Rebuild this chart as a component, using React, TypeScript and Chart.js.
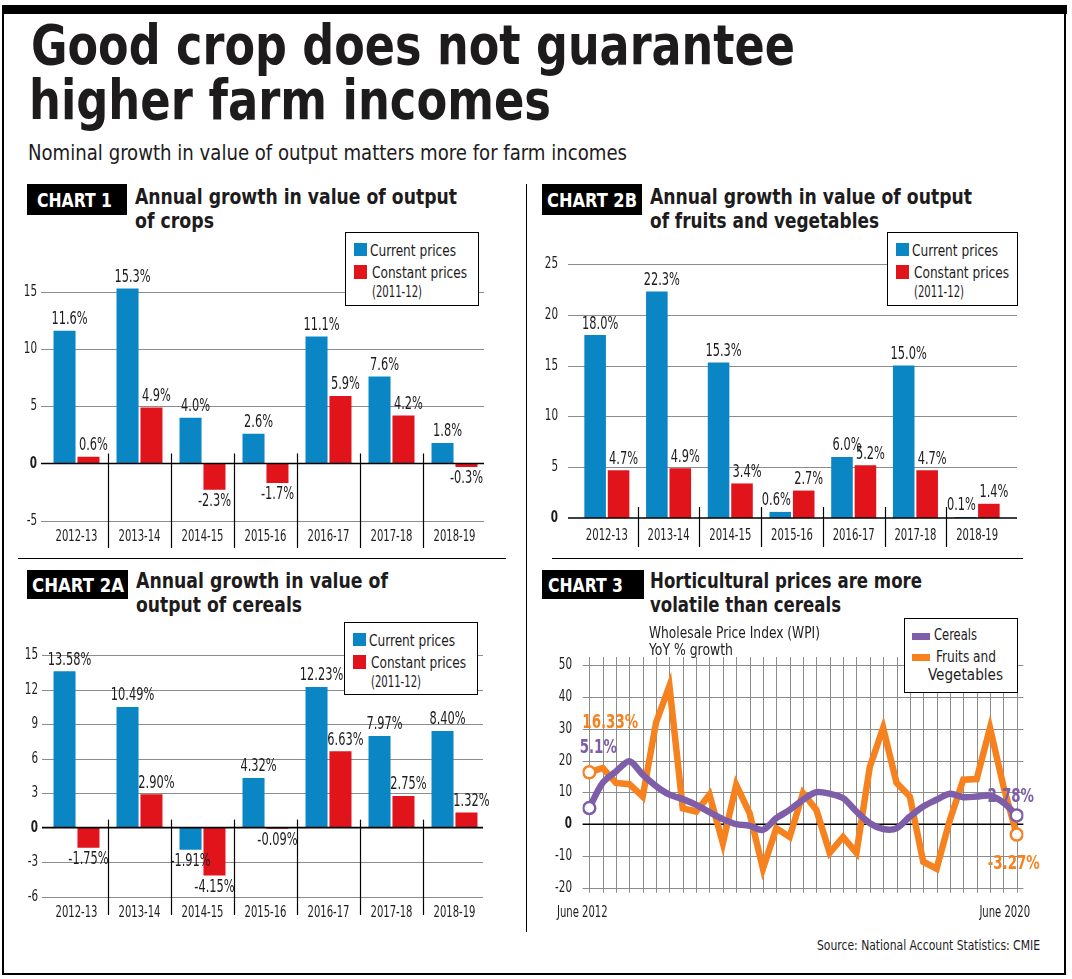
import React, { useEffect, useRef } from 'react';
import { Chart, registerables } from 'chart.js';
Chart.register(...registerables);

// ---------------- data ----------------
const years = ['2012-13', '2013-14', '2014-15', '2015-16', '2016-17', '2017-18', '2018-19'];
const cropsCurrent = [11.6, 15.3, 4.0, 2.6, 11.1, 7.6, 1.8];
const cropsConstant = [0.6, 4.9, -2.3, -1.7, 5.9, 4.2, -0.3];
const cropTicks = [-5, 0, 5, 10, 15];
const fvCurrent = [18.0, 22.3, 15.3, 0.6, 6.0, 15.0, 0.1];
const fvConstant = [4.7, 4.9, 3.4, 2.7, 5.2, 4.7, 1.4];
const fvTicks = [0, 5, 10, 15, 20, 25];
const cerealCurrent = [13.58, 10.49, -1.91, 4.32, 12.23, 7.97, 8.4];
const cerealConstant = [-1.75, 2.9, -4.15, -0.09, 6.63, 2.75, 1.32];
const cerealTicks = [-6, -3, 0, 3, 6, 9, 12, 15];
// WPI YoY % growth, quarterly, June 2012 .. June 2020
const wpiCereals = [5.1, 13, 16.6, 19.8, 15.6, 12, 9.3, 7.9, 6.1, 3.8, 1.6, 0, -0.5, -1.8, 1.9, 4.5, 7.7, 10.1, 9.6, 8.2, 4, 0.3, -1.5, -1.3, 2.4, 5.6, 7.7, 9.6, 8.5, 8.7, 9, 6.8, 2.78];
const wpiFruitsVeg = [16.33, 17.7, 13, 12.6, 8.7, 32, 43.5, 5, 4, 9.3, -6, 12.4, 3.5, -14, -1.3, -4, 9.8, 4.5, -9, -4, -9, 18, 30.3, 13, 8.7, -11.8, -14, 1.4, 14, 14.2, 30.3, 12, -3.27];
const wpiTicks = [-20, -10, 0, 10, 20, 30, 40, 50];
const wpiEndLabels = ['June 2012', 'June 2020'];
const legendBar = ['Current prices', 'Constant prices', '(2011-12)'];
const legendLine = ['Cereals', 'Fruits and', 'Vegetables'];

// ---------------- style ----------------
const BLUE = '#0a86c4';
const RED = '#e1141c';
const PURPLE = '#7e5ea8';
const ORANGE = '#f5821f';
const GRID = '#8c8c8c';
const TEXT = '#1d1b1c';

const NARROW = ['Liberation Sans Narrow', 'DejaVu Sans Condensed', 'Roboto Condensed', 'Noto Sans Condensed', 'Open Sans Condensed'];
const mctx = document.createElement('canvas').getContext('2d') as CanvasRenderingContext2D;
function fontExists(name: string) {
  const s = 'mmmmmmmmmmlli1WQ@#';
  mctx.font = '40px monospace';
  const a = mctx.measureText(s).width;
  mctx.font = `40px "${name}", monospace`;
  const b = mctx.measureText(s).width;
  mctx.font = '40px serif';
  const c = mctx.measureText(s).width;
  mctx.font = `40px "${name}", serif`;
  const d = mctx.measureText(s).width;
  return a !== b || c !== d;
}
const FOUND = NARROW.find(fontExists);
const FAMILY = FOUND ? `"${FOUND}", Roboto, sans-serif` : 'Roboto, "Liberation Sans", sans-serif';
function fontStr(size: number, bold = false) {
  return `${bold ? 'bold ' : ''}${size}px ${FAMILY}`;
}
function tw(text: string, size: number, bold = false) {
  mctx.font = fontStr(size, bold);
  return mctx.measureText(text).width;
}
const COND = Math.min(1.05, 42 / tw('2012-13', 15));

function drawText(ctx: CanvasRenderingContext2D, text: string, x: number, y: number, size: number, bold: boolean, color: string, align: 'left' | 'center' | 'right') {
  ctx.save();
  ctx.font = fontStr(size, bold);
  ctx.fillStyle = color;
  ctx.textBaseline = 'middle';
  ctx.textAlign = 'left';
  const w = ctx.measureText(text).width * COND;
  const x0 = align === 'left' ? x : align === 'center' ? x - w / 2 : x - w;
  ctx.translate(x0, y);
  ctx.scale(COND, 1);
  ctx.fillText(text, 0, 0);
  ctx.restore();
}
function line(ctx: CanvasRenderingContext2D, x1: number, y1: number, x2: number, y2: number, color: string, w: number) {
  ctx.save();
  ctx.strokeStyle = color;
  ctx.lineWidth = w;
  ctx.beginPath();
  ctx.moveTo(x1, y1);
  ctx.lineTo(x2, y2);
  ctx.stroke();
  ctx.restore();
}

// ---------------- html text ----------------
function Txt({ text, x, base, size, bold = false, w, color = TEXT, right = false }: any) {
  const natural = tw(text, size, bold);
  const s = w ? w / natural : 1;
  const width = w || natural;
  const left = right ? x - width : x;
  return (
    <div
      style={{
        position: 'absolute',
        left,
        top: base - 0.845 * size,
        fontFamily: FAMILY,
        fontSize: size,
        fontWeight: bold ? 700 : 400,
        lineHeight: `${size}px`,
        whiteSpace: 'nowrap',
        color,
        transform: `scaleX(${s})`,
        transformOrigin: '0 0',
      }}
    >
      {text}
    </div>
  );
}

function Box({ x, y, w, h, bg = '#000', border }: any) {
  return <div style={{ position: 'absolute', left: x, top: y, width: w, height: h, background: bg, border, boxSizing: 'border-box' }} />;
}

function ChartTag({ x, y, w, h, text, tx, tw: textW }: any) {
  return (
    <>
      <Box x={x} y={y} w={w} h={h} />
      <Txt text={text} x={tx} base={y + h / 2 + 7.5} size={20} bold w={textW} color="#fff" />
    </>
  );
}

function BarLegend({ x, y, w, h }: any) {
  return (
    <>
      <Box x={x} y={y} w={w} h={h} bg="#fff" border="1.5px solid #000" />
      <Box x={x + 9} y={y + 11} w={13} h={13} bg={BLUE} />
      <Txt text={legendBar[0]} x={x + 25} base={y + 19 + 5.6} size={16} w={86} />
      <Box x={x + 9} y={y + 33} w={13} h={14} bg={RED} />
      <Txt text={legendBar[1]} x={x + 27} base={y + 41 + 5.6} size={16} w={95} />
      <Txt text={legendBar[2]} x={x + 27} base={y + 60 + 5.6} size={16} w={50} />
    </>
  );
}

// ---------------- bar chart ----------------
function BarChart(p: any) {
  const ref = useRef<HTMLCanvasElement>(null);
  useEffect(() => {
    const c = ref.current!;
    const { cv, area } = p;
    const ox = cv.x;
    const oy = cv.y;
    const decor = {
      id: 'decor',
      beforeDatasetsDraw(chart: any) {
        const ctx = chart.ctx;
        const ys = chart.scales.y;
        const ca = chart.chartArea;
        p.ticks.forEach((v: number) => {
          if (v === 0) return;
          const y = Math.round(ys.getPixelForValue(v)) + 0.5;
          line(ctx, ca.left - p.gridL, y, ca.right + p.gridR, y, GRID, 1);
        });
      },
      afterDatasetsDraw(chart: any) {
        const ctx = chart.ctx;
        const ys = chart.scales.y;
        const xs = chart.scales.x;
        const ca = chart.chartArea;
        const y0 = ys.getPixelForValue(0);
        line(ctx, ca.left - p.gridL, y0, ca.right + p.gridR, y0, '#000', 1.6);
        for (let i = 0; i < p.labels.length - 1; i++) {
          const x = Math.round((xs.getPixelForValue(i) + xs.getPixelForValue(i + 1)) / 2) + 0.5;
          line(ctx, x, y0 + p.sepTop, x, p.sepBottom - oy, '#000', 1.2);
        }
        chart.data.datasets.forEach((ds: any, di: number) => {
          const meta = chart.getDatasetMeta(di);
          meta.data.forEach((el: any, i: number) => {
            const v = ds.data[i] as number;
            const other = chart.data.datasets[1 - di].data[i] as number;
            const txt = v.toFixed(p.decimals) + '%';
            let dx = v < 0 ? 0 : 5;
            if (di === 0 && v >= 0 && other > v) dx = -4;
            const y = v >= 0 ? el.y - 11 : el.y + 12;
            drawText(ctx, txt, el.x + dx, y, 17, false, TEXT, 'center');
          });
        });
        p.ticks.forEach((v: number) => {
          drawText(ctx, String(v), p.yLabelRight - ox, ys.getPixelForValue(v), 15.5, v === 0, TEXT, 'right');
        });
        p.labels.forEach((l: string, i: number) => {
          drawText(ctx, l, xs.getPixelForValue(i), p.xLabelY - oy, 15, false, TEXT, 'center');
        });
      },
    };
    const chart = new Chart(c, {
      type: 'bar',
      data: {
        labels: p.labels,
        datasets: [
          { label: legendBar[0], data: p.current, backgroundColor: BLUE, categoryPercentage: 0.76, barPercentage: 0.92 },
          { label: legendBar[1], data: p.constant, backgroundColor: RED, categoryPercentage: 0.76, barPercentage: 0.92 },
        ],
      },
      options: {
        animation: false,
        responsive: false,
        devicePixelRatio: 1,
        layout: { padding: { left: 0, top: area.t - cv.y, right: cv.x + cv.w - area.r, bottom: 0 } },
        plugins: { legend: { display: false }, tooltip: { enabled: false } },
        scales: {
          x: {
            grid: { display: false, drawTicks: false },
            border: { display: false },
            ticks: { display: false },
            afterFit: (s: any) => {
              s.height = cv.y + cv.h - area.b;
            },
          },
          y: {
            min: p.min,
            max: p.max,
            ticks: { display: false },
            grid: { display: false, drawTicks: false },
            border: { display: false },
            afterFit: (s: any) => {
              s.width = area.l - cv.x;
            },
          },
        },
      } as any,
      plugins: [decor],
    });
    return () => chart.destroy();
  }, []);
  return <canvas ref={ref} width={p.cv.w} height={p.cv.h} style={{ position: 'absolute', left: p.cv.x, top: p.cv.y, width: p.cv.w, height: p.cv.h }} />;
}

// ---------------- line chart ----------------
function LineChart() {
  const ref = useRef<HTMLCanvasElement>(null);
  const cv = { x: 530, y: 640, w: 540, h: 290 };
  const area = { l: 582.6, r: 1023.4, t: 657, b: 887.8 };
  useEffect(() => {
    const c = ref.current!;
    const n = wpiCereals.length;
    const decor = {
      id: 'decor3',
      beforeDatasetsDraw(chart: any) {
        const ctx = chart.ctx;
        const ys = chart.scales.y;
        const xs = chart.scales.x;
        const ca = chart.chartArea;
        for (let i = 0; i < n; i++) {
          const x = Math.round(xs.getPixelForValue(i)) + 0.5;
          line(ctx, x, ca.top, x, ca.bottom + 5, GRID, 1);
        }
        wpiTicks.forEach((v) => {
          if (v === 0) return;
          const y = Math.round(ys.getPixelForValue(v)) + 0.5;
          line(ctx, ca.left, y, ca.right, y, GRID, 1);
        });
        const y0 = ys.getPixelForValue(0);
        line(ctx, ca.left, y0, ca.right, y0, '#000', 1.6);
      },
      afterDatasetsDraw(chart: any) {
        const ctx = chart.ctx;
        const ys = chart.scales.y;
        const m0 = chart.getDatasetMeta(0).data;
        const m1 = chart.getDatasetMeta(1).data;
        wpiTicks.forEach((v) => {
          drawText(ctx, String(v), 572 - cv.x, ys.getPixelForValue(v), 15.5, v === 0, TEXT, 'right');
        });
        drawText(ctx, wpiEndLabels[0], m0[0].x - 7, 913 - cv.y, 15, false, TEXT, 'center');
        drawText(ctx, wpiEndLabels[1], m0[n - 1].x - 12, 913 - cv.y, 15, false, TEXT, 'center');
        drawText(ctx, `${wpiFruitsVeg[0]}%`, m1[0].x + 21, m1[0].y - 50, 20, true, ORANGE, 'center');
        drawText(ctx, `${wpiCereals[0]}%`, m0[0].x + 9, m0[0].y - 60, 20, true, PURPLE, 'center');
        drawText(ctx, `${wpiCereals[n - 1]}%`, m0[n - 1].x - 6, m0[n - 1].y - 19, 20, true, PURPLE, 'center');
        drawText(ctx, `${wpiFruitsVeg[n - 1]}%`, m1[n - 1].x - 3, m1[n - 1].y + 29, 20, true, ORANGE, 'center');
      },
    };
    const endRadius = (ctx: any) => (ctx.dataIndex === 0 || ctx.dataIndex === n - 1 ? 6 : 0);
    const chart = new Chart(c, {
      type: 'line',
      data: {
        datasets: [
          {
            label: legendLine[0],
            data: wpiCereals.map((y, i) => ({ x: i, y })),
            borderColor: PURPLE,
            borderWidth: 6.5,
            tension: 0.3,
            pointRadius: endRadius,
            pointBackgroundColor: '#fff',
            pointBorderColor: PURPLE,
            pointBorderWidth: 2.5,
            borderJoinStyle: 'round',
            order: 0,
          },
          {
            label: legendLine[1] + ' ' + legendLine[2],
            data: wpiFruitsVeg.map((y, i) => ({ x: i, y })),
            borderColor: ORANGE,
            borderWidth: 6.5,
            tension: 0,
            pointRadius: endRadius,
            pointBackgroundColor: '#fff',
            pointBorderColor: ORANGE,
            pointBorderWidth: 2.5,
            borderJoinStyle: 'miter',
            order: 1,
          },
        ],
      },
      options: {
        animation: false,
        responsive: false,
        devicePixelRatio: 1,
        layout: { padding: { left: 0, top: area.t - cv.y, right: cv.x + cv.w - area.r, bottom: 0 } },
        plugins: { legend: { display: false }, tooltip: { enabled: false } },
        scales: {
          x: {
            type: 'linear',
            min: -0.5,
            max: n - 0.5,
            ticks: { display: false },
            grid: { display: false, drawTicks: false },
            border: { display: false },
            afterFit: (s: any) => {
              s.height = cv.y + cv.h - area.b;
            },
          },
          y: {
            min: -20,
            max: 52.6,
            ticks: { display: false },
            grid: { display: false, drawTicks: false },
            border: { display: false },
            afterFit: (s: any) => {
              s.width = area.l - cv.x;
            },
          },
        },
      } as any,
      plugins: [decor],
    });
    return () => chart.destroy();
  }, []);
  return <canvas ref={ref} width={cv.w} height={cv.h} style={{ position: 'absolute', left: cv.x, top: cv.y, width: cv.w, height: cv.h }} />;
}

// ---------------- app ----------------
export default function App() {
  return (
    <div style={{ position: 'absolute', left: 0, top: 0, width: 1072, height: 979, background: '#fff', overflow: 'hidden', fontFamily: FAMILY }}>
      {/* frame */}
      <Box x={2} y={5} w={1065} h={9} />
      <Box x={2} y={5} w={2} h={970} />
      <Box x={1064} y={5} w={2} h={970} />
      <Box x={2} y={973} w={1064} h={2} />
      <Box x={525.5} y={184} w={1.5} h={748} />
      <Box x={18} y={557.5} w={488} h={1.5} />
      <Box x={552} y={557.5} w={471} h={1.5} />

      {/* headline */}
      <Txt text="Good crop does not guarantee" x={31} base={64} size={56} bold w={764} />
      <Txt text="higher farm incomes" x={29} base={119} size={56} bold w={522} />
      <Txt text="Nominal growth in value of output matters more for farm incomes" x={28} base={161} size={22} w={599} />

      {/* chart 1 */}
      <BarChart
        cv={{ x: 0, y: 236, w: 520, h: 320 }}
        area={{ l: 45, r: 486, t: 257.6, b: 520.7 }}
        labels={years}
        current={cropsCurrent}
        constant={cropsConstant}
        ticks={cropTicks}
        min={-5}
        max={18}
        decimals={1}
        gridL={4}
        gridR={-2}
        yLabelRight={37}
        xLabelY={537}
        sepTop={-10}
        sepBottom={548}
      />
      {/* chart 2B */}
      <BarChart
        cv={{ x: 530, y: 240, w: 530, h: 316 }}
        area={{ l: 576, r: 1008, t: 264, b: 518 }}
        labels={years}
        current={fvCurrent}
        constant={fvConstant}
        ticks={fvTicks}
        min={0}
        max={25}
        decimals={1}
        gridL={8}
        gridR={9}
        yLabelRight={558}
        xLabelY={536}
        sepTop={-11}
        sepBottom={547}
      />
      {/* chart 2A */}
      <BarChart
        cv={{ x: 0, y: 630, w: 520, h: 300 }}
        area={{ l: 45, r: 486, t: 655, b: 896.7 }}
        labels={years}
        current={cerealCurrent}
        constant={cerealConstant}
        ticks={cerealTicks}
        min={-6}
        max={15}
        decimals={2}
        gridL={3}
        gridR={-3}
        yLabelRight={38}
        xLabelY={913}
        sepTop={-8}
        sepBottom={915}
      />
      {/* chart 3 */}
      <LineChart />

      {/* chart headers */}
      <ChartTag x={27} y={184} w={100} h={31} text="CHART 1" tx={37} tw={75} />
      <Txt text="Annual growth in value of output" x={135} base={205} size={22} bold w={322} />
      <Txt text="of crops" x={135} base={229} size={22} bold w={79} />

      <ChartTag x={542} y={184} w={100} h={31} text="CHART 2B" tx={547} tw={90} />
      <Txt text="Annual growth in value of output" x={650} base={205} size={22} bold w={322} />
      <Txt text="of fruits and vegetables" x={650} base={229} size={22} bold w={229} />

      <ChartTag x={27} y={570} w={101} h={29} text="CHART 2A" tx={32} tw={92} />
      <Txt text="Annual growth in value of" x={136} base={589} size={22} bold w={252} />
      <Txt text="output of cereals" x={136} base={613} size={22} bold w={166} />

      <ChartTag x={542} y={570} w={102} h={29} text="CHART 3" tx={548} tw={75} />
      <Txt text="Horticultural prices are more" x={650} base={589} size={22} bold w={272} />
      <Txt text="volatile than cereals" x={650} base={613} size={22} bold w={191} />
      <Txt text="Wholesale Price Index (WPI)" x={649} base={639} size={15.5} w={171} />
      <Txt text="YoY % growth" x={649} base={656} size={15.5} w={84} />

      {/* legends */}
      <BarLegend x={345} y={232} w={134} h={74} />
      <BarLegend x={887} y={232} w={131} h={74} />
      <BarLegend x={344} y={622} w={134} h={73} />

      <Box x={904} y={618} w={114} h={75} bg="#fff" border="1.5px solid #000" />
      <Box x={912} y={633} w={18} h={7} bg={PURPLE} />
      <Txt text={legendLine[0]} x={934} base={641} size={16} w={43} />
      <Box x={912} y={654} w={18} h={7} bg={ORANGE} />
      <Txt text={legendLine[1]} x={936} base={663} size={16} w={60} />
      <Txt text={legendLine[2]} x={928} base={681} size={16} w={75} />

      <Txt text="Source: National Account Statistics: CMIE" x={1040} base={950} size={14} w={223} right />
    </div>
  );
}
